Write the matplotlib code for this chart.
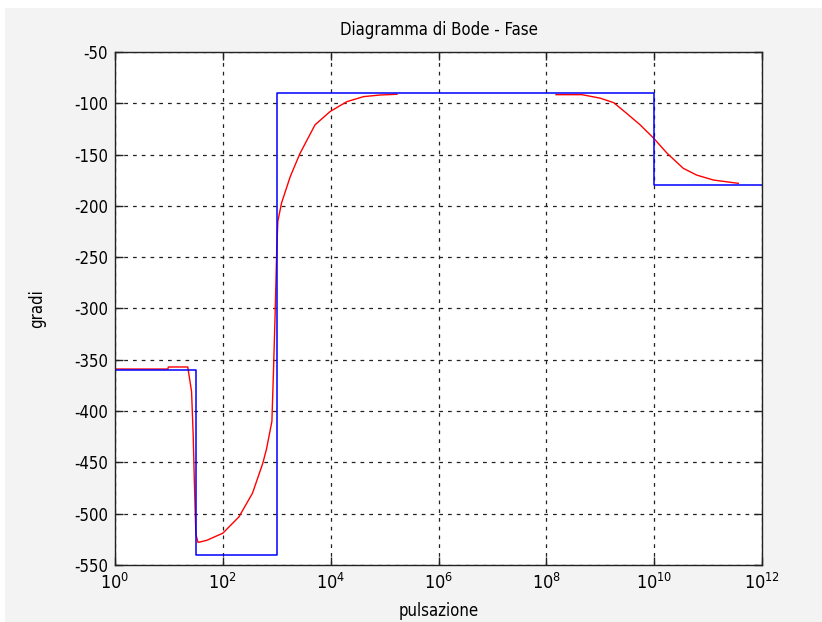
import numpy as np
import matplotlib
matplotlib.use("Agg")
import matplotlib.pyplot as plt
from matplotlib.patches import Rectangle
from matplotlib import font_manager

# Prefer a condensed sans face for the labels
fonts = font_manager.fontManager.ttflist
narrow = [f for f in fonts if f.name == "Liberation Sans Narrow"]
condensed = [f for f in fonts if f.name == "DejaVu Sans" and f.stretch in ("condensed", 400, "semi-condensed")]
if narrow:
    plt.rcParams["font.family"] = ["Liberation Sans Narrow"]
elif condensed:
    plt.rcParams["font.family"] = ["DejaVu Sans"]
    plt.rcParams["font.stretch"] = "condensed"
else:
    plt.rcParams["font.family"] = ["Liberation Sans", "DejaVu Sans"]

# Asymptotic phase (straight-line approximation): breakpoints in log10(omega)
asym_logw = [0.0, 1.5, 1.5, 3.0, 3.0, 10.0, 10.0, 12.0]
asym_phase = [-360, -360, -540, -540, -90, -90, -180, -180]

# Exact phase, low/mid frequency segment
exact_logw_a = [0.0, 0.98, 0.99, 1.35, 1.42, 1.45, 1.47, 1.50, 1.54, 1.70, 2.0,
                2.3, 2.55, 2.74, 2.81, 2.91, 2.94, 2.97, 3.0, 3.02, 3.09, 3.25,
                3.43, 3.71, 3.99, 4.30, 4.61, 4.92, 5.23]
exact_phase_a = [-359, -359, -357, -357, -381, -423, -465, -520, -528, -526, -519,
                 -503, -480, -451, -437, -410, -360, -305, -243, -215, -197, -171.5,
                 -149, -121, -108, -98.4, -93.5, -91.9, -91.2]

# Exact phase, high frequency segment
exact_logw_b = [8.18, 8.66, 9.0, 9.25, 9.49, 9.74, 9.99, 10.24, 10.54, 10.79, 11.1, 11.56]
exact_phase_b = [-91.6, -91.6, -95, -99.4, -109.8, -121, -134, -148.7, -163.4, -170, -174.8, -178]

xtick_exp = [0, 2, 4, 6, 8, 10, 12]
yticks = list(range(-550, -49, 50))

fig = plt.figure(figsize=(8.22, 6.22), dpi=100, facecolor="white")
fig.patches.append(Rectangle((5 / 822, -0.05), 1.1, 1.05 - 8 / 622, transform=fig.transFigure,
                             facecolor="#f3f3f3", edgecolor="none", zorder=-10))

ax = fig.add_axes([115 / 822, 57 / 622, 647 / 822, 513 / 622])
ax.set_facecolor("white")

ax.plot(10 ** np.array(exact_logw_a), exact_phase_a, color="red", lw=1.0)
ax.plot(10 ** np.array(exact_logw_b), exact_phase_b, color="red", lw=1.0)
ax.plot(10 ** np.array(asym_logw), asym_phase, color="blue", lw=1.1)

ax.set_xscale("log")
ax.set_xlim(1, 1e12)
ax.set_ylim(-550, -50)
ax.set_xticks([10.0 ** e for e in xtick_exp])
ax.set_xticklabels([rf"$\mathregular{{10^{{{e}}}}}$" for e in xtick_exp], fontsize=13)
ax.xaxis.set_minor_locator(matplotlib.ticker.NullLocator())
ax.set_yticks(yticks)
ax.set_yticklabels([str(v) for v in yticks], fontsize=12)

ax.tick_params(direction="in", top=True, right=True, length=6, width=1, color="#222222",
               labelcolor="black")
ax.tick_params(axis="x", pad=6)
ax.tick_params(axis="y", pad=5)
ax.grid(True, color="#222222", linestyle=(0, (3, 4)), linewidth=0.9)
for s in ax.spines.values():
    s.set_color("#222222")
    s.set_linewidth(1)

ax.set_title("Diagramma di Bode - Fase", fontsize=12, pad=12)
ax.set_xlabel("pulsazione", fontsize=12, labelpad=6)
ax.set_ylabel("gradi", fontsize=12, labelpad=20)

fig.savefig("out.png", dpi=100, facecolor=fig.get_facecolor())
